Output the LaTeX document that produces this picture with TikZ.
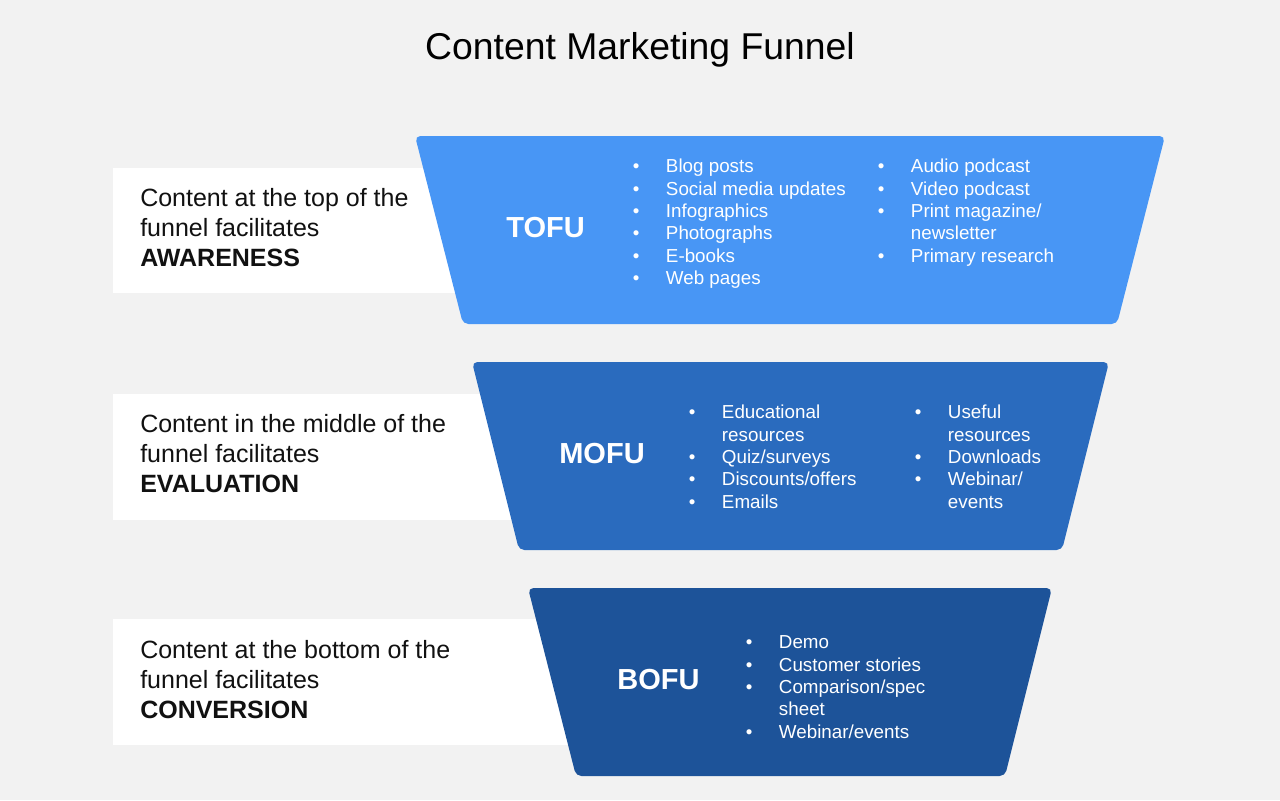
\documentclass[tikz,border=0pt]{standalone}
\usepackage{fontspec}
\setmainfont{Liberation Sans}
\definecolor{bg}{HTML}{F2F2F2}
\definecolor{tofuc}{RGB}{72,150,245}
\definecolor{mofuc}{RGB}{42,107,190}
\definecolor{bofuc}{RGB}{29,83,153}
\definecolor{boxtext}{HTML}{111111}
\newcommand{\bitem}[1]{\makebox[24.75pt][l]{\textbullet}#1}
\newcommand{\bcont}[1]{\hspace*{24.75pt}#1}
\begin{document}
\begin{tikzpicture}[x=0.75pt,y=-0.75pt,
  funnelpart/.style={rounded corners=4pt},
  sidebox/.style={fill=white},
  sidetext/.style={anchor=north west,inner sep=0pt,align=left,text=boxtext,
    font=\fontsize{18.75}{22.5}\selectfont},
  stagelabel/.style={anchor=base,inner sep=0pt,text=white,
    font=\fontsize{21.75}{26}\selectfont\bfseries},
  itemlist/.style={anchor=north west,inner sep=0pt,text=white,
    font=\fontsize{14.1}{16.8}\selectfont},
  titletext/.style={anchor=base,inner sep=0pt,font=\fontsize{28}{33}\selectfont}]
\useasboundingbox (0,0) rectangle (1280,800);
\fill[bg] (0,0) rectangle (1280,800);

\node[titletext] (title) at (640,59.5) {Content Marketing Funnel};

% side boxes
\fill[sidebox] (113,168) rectangle (520,293);
\fill[sidebox] (113,394) rectangle (560,520);
\fill[sidebox] (113,619) rectangle (600,745);

\node[sidetext] (awareness) at (140,185) {\strut Content at the top of the\\funnel facilitates\\\textbf{AWARENESS}};
\node[sidetext] (evaluation) at (140,411) {\strut Content in the middle of the\\funnel facilitates\\\textbf{EVALUATION}};
\node[sidetext] (conversion) at (140,637) {\strut Content at the bottom of the\\funnel facilitates\\\textbf{CONVERSION}};

% funnel parts
\fill[tofuc,funnelpart] (415,136) -- (1165,136) -- (1117,324) -- (463,324) -- cycle;
\fill[mofuc,funnelpart] (472,362) -- (1109,362) -- (1062,550) -- (519,550) -- cycle;
\fill[bofuc,funnelpart] (528,588) -- (1052,588) -- (1005,776) -- (576,776) -- cycle;

\node[stagelabel] (tofu) at (545.5,237) {TOFU};
\node[stagelabel] (mofu) at (602,463) {MOFU};
\node[stagelabel] (bofu) at (658.5,689) {BOFU};

% lists
\node[itemlist] (tofu1) at (632.7,156.8) {\begin{tabular}{@{}l@{}}
\bitem{Blog posts}\\
\bitem{Social media updates}\\
\bitem{Infographics}\\
\bitem{Photographs}\\
\bitem{E-books}\\
\bitem{Web pages}
\end{tabular}};
\node[itemlist] (tofu2) at (877.7,156.8) {\begin{tabular}{@{}l@{}}
\bitem{Audio podcast}\\
\bitem{Video podcast}\\
\bitem{Print magazine/}\\
\bcont{newsletter}\\
\bitem{Primary research}
\end{tabular}};

\node[itemlist] (mofu1) at (688.7,402.8) {\begin{tabular}{@{}l@{}}
\bitem{Educational}\\
\bcont{resources}\\
\bitem{Quiz/surveys}\\
\bitem{Discounts/offers}\\
\bitem{Emails}
\end{tabular}};
\node[itemlist] (mofu2) at (914.7,402.8) {\begin{tabular}{@{}l@{}}
\bitem{Useful}\\
\bcont{resources}\\
\bitem{Downloads}\\
\bitem{Webinar/}\\
\bcont{events}
\end{tabular}};

\node[itemlist] (bofu1) at (745.7,632.8) {\begin{tabular}{@{}l@{}}
\bitem{Demo}\\
\bitem{Customer stories}\\
\bitem{Comparison/spec}\\
\bcont{sheet}\\
\bitem{Webinar/events}
\end{tabular}};
\end{tikzpicture}
\end{document}
